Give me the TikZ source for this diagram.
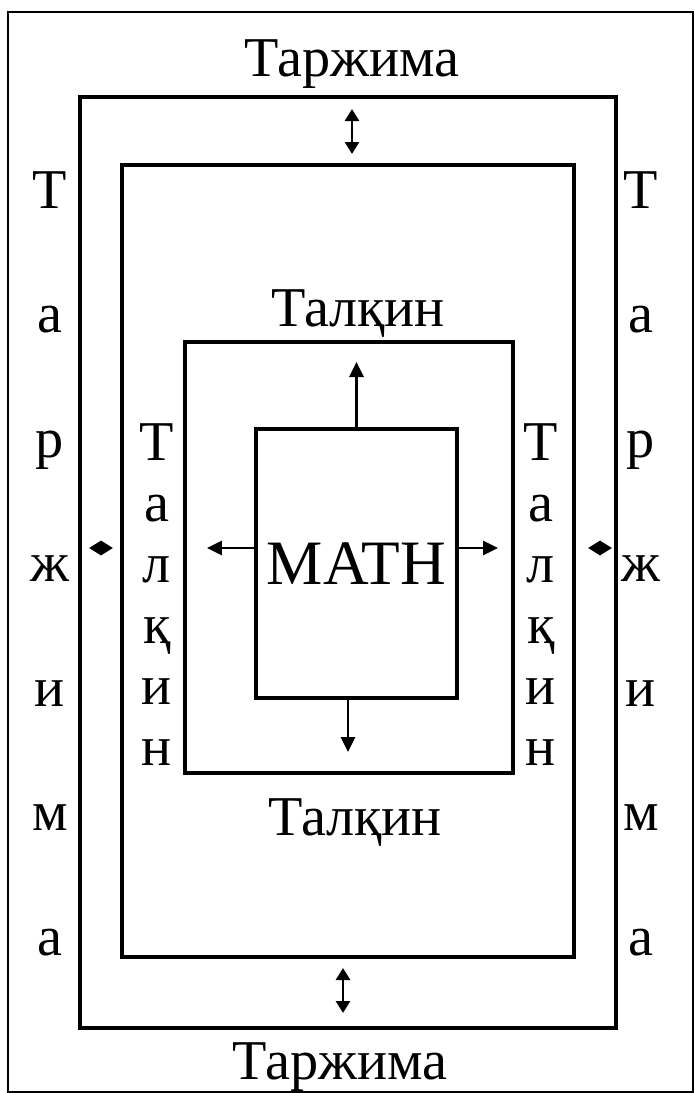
\documentclass[tikz,border=0pt]{standalone}
\usepackage{fontspec}
\setmainfont{Liberation Serif}
\usetikzlibrary{arrows.meta}

\begin{document}
\begin{tikzpicture}[x=0.02cm, y=-0.02cm,
          bx/.style={draw, line width=2.6pt, inner sep=0pt},
          txt/.style={font=\fontsize{32}{38}\selectfont, inner sep=0pt, anchor=base},
          arr/.style={line width=1.6pt, -{Triangle[length=0.3cm, width=0.28cm]}},
          dbl/.style={line width=1.6pt, {Triangle[length=0.24cm, width=0.28cm]}-{Triangle[length=0.24cm, width=0.28cm]}}]
        \useasboundingbox (0,0) rectangle (695,1093);
        % page frame
        \node[draw, line width=1pt, minimum width=13.7cm, minimum height=21.6cm, inner sep=0pt] (page) at (350.5,552) {};
        % nested boxes
        \node[bx, minimum width=10.72cm, minimum height=18.62cm] (tarA) at (348,562.5) {};
        \node[bx, minimum width=9.04cm, minimum height=15.84cm] (tarB) at (348,561) {};
        \node[bx, minimum width=6.56cm, minimum height=8.62cm] (talC) at (349,557.5) {};
        \node[draw, line width=2.2pt, minimum width=4.02cm, minimum height=5.38cm, inner sep=0pt,
              font=\fontsize{36}{42}\selectfont] (math) at (356.5,563.5) {MATH};
        % horizontal labels
        \node[txt] (tarN) at (352,76) {Таржима};
        \node[txt] (tarS) at (340,1079) {Таржима};
        \node[txt] (talN) at (358,326) {Талқин};
        \node[txt] (talS) at (355,835) {Талқин};
        % vertical labels
        \foreach \ch [count=\i from 0] in {Т,а,р,ж,и,м,а} {
          \node[txt] (tw\i) at (50,{208+124.5*\i}) {\ch};
          \node[txt] (te\i) at (641,{208+124.5*\i}) {\ch};
        }
        \foreach \ch [count=\i from 0] in {Т,а,л,қ,и,н} {
          \node[txt] (kw\i) at (157,{460+61*\i}) {\ch};
          \node[txt] (ke\i) at (541,{460+61*\i}) {\ch};
        }
        % arrow ends
        \coordinate (up) at (356.5,362);
        \coordinate (dn) at (348,752);
        \coordinate (lf) at (207,548);
        \coordinate (rt) at (498,548);
        \coordinate (n1) at (352,109); \coordinate (n2) at (352,154);
        \coordinate (s1) at (343,968); \coordinate (s2) at (343,1013);
        \coordinate (w1) at (89,548); \coordinate (w2) at (113,548);
        \coordinate (e1) at (588,548); \coordinate (e2) at (612,548);
        \draw[arr] (math.north) -- (up);
        \draw[arr] (dn |- math.south) -- (dn);
        \draw[arr] (lf -| math.west) -- (lf);
        \draw[arr] (rt -| math.east) -- (rt);
        \draw[dbl] (n1) -- (n2);
        \draw[dbl] (s1) -- (s2);
        \draw[dbl] (w1) -- (w2);
        \draw[dbl] (e1) -- (e2);
      \end{tikzpicture}
\end{document}
